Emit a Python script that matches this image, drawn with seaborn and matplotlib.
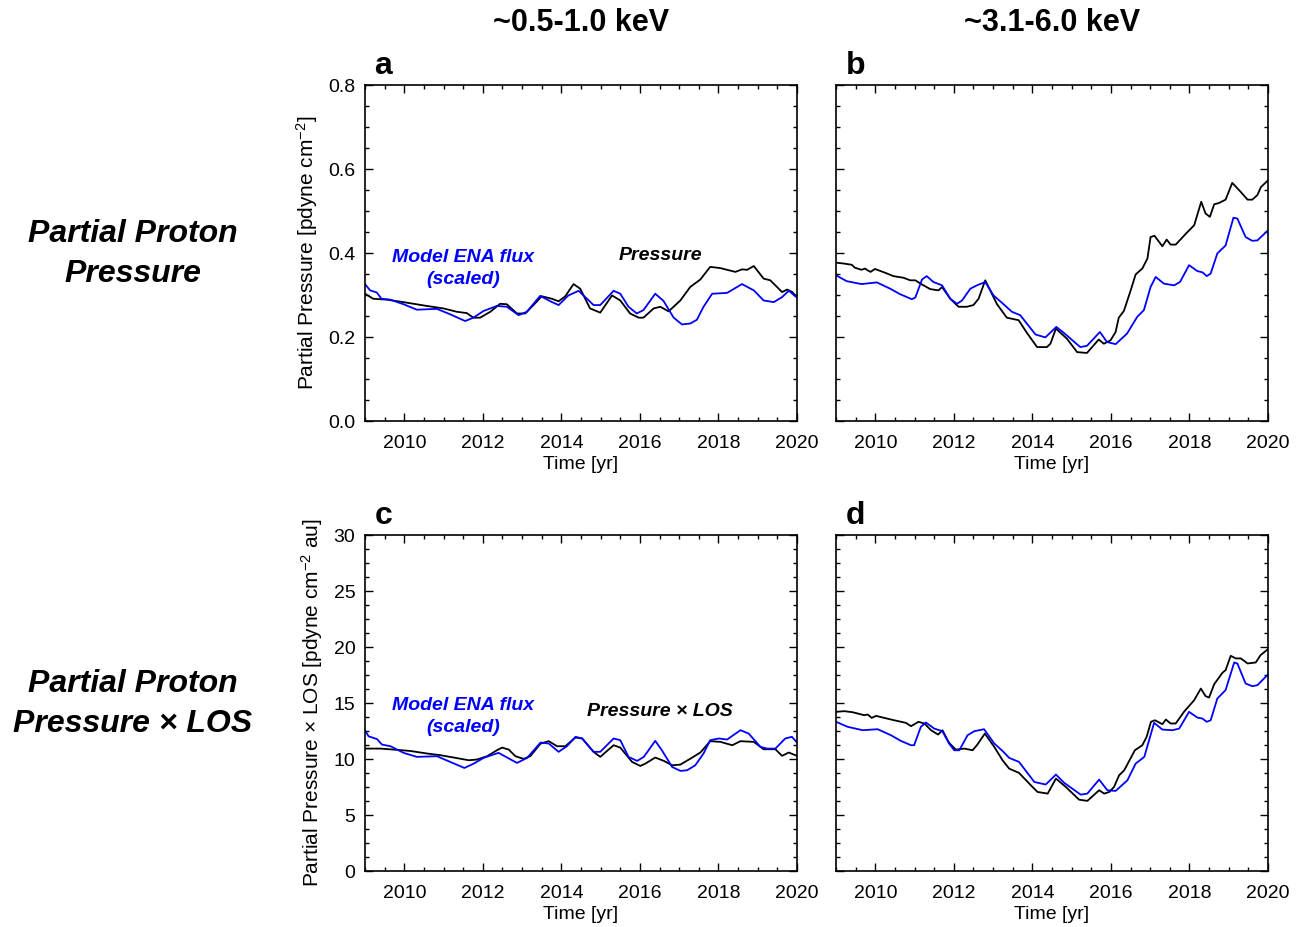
import matplotlib
matplotlib.use("Agg")
import matplotlib.pyplot as plt
from matplotlib.ticker import MultipleLocator, FormatStrFormatter
import seaborn as sns

# ---- data ----
# panel a: ~0.5-1.0 keV, partial pressure
a_press_yr = [2009.00, 2009.21, 2009.55, 2009.98, 2010.57, 2011.00, 2011.34, 2011.59, 2011.76, 2011.93,
              2012.19, 2012.44, 2012.61, 2012.87, 2013.08, 2013.29, 2013.50, 2013.76, 2013.93, 2014.10,
              2014.31, 2014.48, 2014.73, 2014.99, 2015.29, 2015.50, 2015.75, 2015.97, 2016.09, 2016.35,
              2016.52, 2016.73, 2017.03, 2017.28, 2017.54, 2017.79, 2018.05, 2018.43, 2018.60, 2018.73,
              2018.90, 2019.15, 2019.32, 2019.62, 2019.75, 2019.88, 2020.00]
a_press = [0.303, 0.291, 0.289, 0.283, 0.274, 0.268, 0.260, 0.257, 0.246, 0.246,
           0.260, 0.279, 0.278, 0.256, 0.256, 0.276, 0.297, 0.291, 0.285, 0.297,
           0.326, 0.315, 0.268, 0.258, 0.299, 0.287, 0.256, 0.246, 0.246, 0.268,
           0.272, 0.261, 0.287, 0.319, 0.337, 0.367, 0.364, 0.355, 0.361, 0.360,
           0.369, 0.339, 0.335, 0.307, 0.313, 0.307, 0.295]
a_ena_yr = [2009.00, 2009.13, 2009.30, 2009.42, 2009.64, 2009.98, 2010.32, 2010.83, 2011.17, 2011.55,
            2011.76, 2012.02, 2012.36, 2012.61, 2012.91, 2013.12, 2013.46, 2013.72, 2013.93, 2014.18,
            2014.44, 2014.82, 2014.99, 2015.33, 2015.50, 2015.71, 2015.92, 2016.09, 2016.39, 2016.60,
            2016.86, 2017.07, 2017.28, 2017.45, 2017.62, 2017.84, 2018.22, 2018.60, 2018.90, 2019.15,
            2019.41, 2019.62, 2019.79, 2020.00]
a_ena = [0.326, 0.311, 0.306, 0.291, 0.289, 0.278, 0.265, 0.267, 0.254, 0.238,
         0.246, 0.262, 0.274, 0.272, 0.252, 0.260, 0.298, 0.285, 0.276, 0.299,
         0.310, 0.276, 0.276, 0.310, 0.303, 0.272, 0.256, 0.264, 0.303, 0.286,
         0.246, 0.230, 0.232, 0.241, 0.272, 0.303, 0.305, 0.326, 0.311, 0.287,
         0.283, 0.295, 0.310, 0.294]

# panel b: ~3.1-6.0 keV, partial pressure
b_press_yr = [2009.00, 2009.19, 2009.40, 2009.48, 2009.65, 2009.74, 2009.80, 2009.88, 2009.99, 2010.25,
              2010.46, 2010.72, 2010.89, 2011.02, 2011.19, 2011.40, 2011.61, 2011.70, 2011.91, 2012.12,
              2012.33, 2012.50, 2012.63, 2012.80, 2013.10, 2013.35, 2013.65, 2013.86, 2014.12, 2014.37,
              2014.46, 2014.60, 2014.88, 2015.14, 2015.39, 2015.69, 2015.82, 2015.99, 2016.12, 2016.20,
              2016.33, 2016.50, 2016.63, 2016.80, 2016.93, 2017.01, 2017.11, 2017.31, 2017.42, 2017.52,
              2017.65, 2017.95, 2018.12, 2018.30, 2018.41, 2018.52, 2018.63, 2018.75, 2018.92, 2019.09,
              2019.31, 2019.48, 2019.60, 2019.73, 2019.82, 2020.00]
b_press = [0.377, 0.375, 0.372, 0.365, 0.360, 0.363, 0.359, 0.355, 0.362, 0.353,
           0.345, 0.341, 0.335, 0.335, 0.325, 0.314, 0.311, 0.319, 0.291, 0.272,
           0.272, 0.276, 0.291, 0.335, 0.278, 0.246, 0.240, 0.210, 0.176, 0.176,
           0.184, 0.220, 0.196, 0.164, 0.162, 0.194, 0.184, 0.192, 0.212, 0.246,
           0.262, 0.310, 0.349, 0.363, 0.387, 0.438, 0.441, 0.416, 0.432, 0.420,
           0.420, 0.450, 0.466, 0.522, 0.494, 0.486, 0.516, 0.519, 0.527, 0.567,
           0.545, 0.527, 0.527, 0.538, 0.557, 0.573]
b_ena_yr = [2009.00, 2009.27, 2009.65, 2010.04, 2010.38, 2010.63, 2010.93, 2011.02, 2011.19, 2011.31,
            2011.48, 2011.70, 2011.91, 2012.08, 2012.21, 2012.42, 2012.59, 2012.80, 2013.01, 2013.23,
            2013.48, 2013.69, 2014.08, 2014.33, 2014.61, 2014.80, 2015.22, 2015.39, 2015.72, 2015.90,
            2016.12, 2016.41, 2016.67, 2016.84, 2017.01, 2017.14, 2017.35, 2017.61, 2017.76, 2017.99,
            2018.20, 2018.33, 2018.44, 2018.54, 2018.71, 2018.92, 2019.12, 2019.22, 2019.43, 2019.60,
            2019.73, 2020.00]
b_ena = [0.347, 0.333, 0.326, 0.330, 0.315, 0.302, 0.290, 0.294, 0.337, 0.345,
         0.331, 0.323, 0.291, 0.279, 0.287, 0.315, 0.323, 0.331, 0.299, 0.281,
         0.260, 0.252, 0.206, 0.199, 0.224, 0.210, 0.176, 0.179, 0.212, 0.188,
         0.183, 0.208, 0.248, 0.264, 0.319, 0.343, 0.327, 0.323, 0.331, 0.371,
         0.357, 0.354, 0.345, 0.351, 0.399, 0.418, 0.484, 0.482, 0.438, 0.429,
         0.430, 0.454]

# panel c: ~0.5-1.0 keV, pressure x LOS
c_plos_yr = [2009.00, 2009.39, 2009.73, 2010.15, 2010.58, 2010.92, 2011.26, 2011.64, 2011.85, 2012.11,
             2012.36, 2012.49, 2012.66, 2012.83, 2013.04, 2013.21, 2013.47, 2013.68, 2013.89, 2014.10,
             2014.36, 2014.53, 2014.82, 2014.99, 2015.33, 2015.50, 2015.80, 2016.01, 2016.14, 2016.39,
             2016.61, 2016.82, 2017.03, 2017.29, 2017.54, 2017.79, 2018.05, 2018.35, 2018.56, 2018.90,
             2019.15, 2019.45, 2019.62, 2019.79, 2020.00]
c_plos = [10.93, 10.93, 10.84, 10.72, 10.49, 10.34, 10.13, 9.89, 9.95, 10.25,
          10.78, 11.02, 10.84, 10.25, 10.01, 10.25, 11.38, 11.59, 11.14, 11.14,
          11.92, 11.83, 10.64, 10.19, 11.23, 11.02, 9.74, 9.38, 9.59, 10.13,
          9.83, 9.44, 9.50, 10.04, 10.58, 11.59, 11.53, 11.23, 11.59, 11.53,
          10.87, 10.87, 10.28, 10.58, 10.28]
c_ena_yr = [2009.00, 2009.09, 2009.31, 2009.43, 2009.65, 2009.98, 2010.32, 2010.83, 2011.17, 2011.53,
            2011.77, 2012.02, 2012.40, 2012.62, 2012.87, 2013.13, 2013.47, 2013.68, 2013.93, 2014.14,
            2014.36, 2014.53, 2014.82, 2014.99, 2015.33, 2015.50, 2015.71, 2015.93, 2016.10, 2016.39,
            2016.56, 2016.82, 2017.03, 2017.20, 2017.41, 2017.62, 2017.79, 2018.01, 2018.22, 2018.56,
            2018.77, 2019.07, 2019.24, 2019.45, 2019.70, 2019.87, 2020.00]
c_ena = [12.57, 12.03, 11.77, 11.29, 11.14, 10.55, 10.19, 10.25, 9.74, 9.20,
         9.59, 10.10, 10.55, 10.13, 9.65, 10.10, 11.47, 11.38, 10.64, 11.14,
         11.98, 11.83, 10.64, 10.64, 11.83, 11.68, 10.19, 9.83, 10.19, 11.62,
         10.78, 9.29, 8.94, 8.99, 9.44, 10.49, 11.68, 11.83, 11.74, 12.57,
         12.27, 11.08, 10.93, 10.93, 11.83, 11.98, 11.47]

# panel d: ~3.1-6.0 keV, pressure x LOS
d_plos_yr = [2009.00, 2009.21, 2009.42, 2009.72, 2009.81, 2009.91, 2010.02, 2010.23, 2010.48, 2010.78,
             2010.91, 2011.10, 2011.25, 2011.42, 2011.60, 2011.71, 2011.88, 2012.05, 2012.27, 2012.48,
             2012.60, 2012.79, 2013.03, 2013.24, 2013.41, 2013.66, 2013.96, 2014.13, 2014.39, 2014.60,
             2014.85, 2015.19, 2015.40, 2015.70, 2015.83, 2015.96, 2016.08, 2016.21, 2016.34, 2016.61,
             2016.80, 2016.91, 2017.02, 2017.12, 2017.31, 2017.40, 2017.52, 2017.65, 2017.86, 2018.12,
             2018.29, 2018.41, 2018.50, 2018.63, 2018.84, 2018.92, 2019.05, 2019.18, 2019.31, 2019.48,
             2019.69, 2019.81, 2020.00]
d_plos = [14.21, 14.27, 14.18, 13.91, 13.97, 13.67, 13.85, 13.67, 13.46, 13.23,
          12.93, 13.32, 13.17, 12.57, 12.18, 12.57, 11.44, 10.84, 10.93, 10.78,
          11.29, 12.27, 11.08, 9.89, 9.14, 8.76, 7.66, 7.06, 6.91, 8.25,
          7.51, 6.37, 6.26, 7.21, 6.91, 7.06, 7.51, 8.55, 9.00, 10.78,
          11.23, 11.98, 13.32, 13.46, 13.11, 13.52, 13.17, 13.17, 14.21, 15.25,
          16.29, 15.61, 15.49, 16.68, 17.70, 17.93, 19.21, 18.98, 18.98, 18.53,
          18.62, 19.27, 19.81]
d_ena_yr = [2009.00, 2009.30, 2009.68, 2010.06, 2010.40, 2010.65, 2010.91, 2010.99, 2011.16, 2011.29,
            2011.50, 2011.71, 2011.88, 2012.01, 2012.14, 2012.35, 2012.52, 2012.77, 2013.03, 2013.24,
            2013.41, 2013.66, 2014.05, 2014.34, 2014.60, 2014.81, 2015.23, 2015.40, 2015.70, 2015.91,
            2016.12, 2016.42, 2016.63, 2016.85, 2017.10, 2017.31, 2017.57, 2017.74, 2017.99, 2018.20,
            2018.33, 2018.44, 2018.54, 2018.71, 2018.92, 2019.14, 2019.22, 2019.43, 2019.60, 2019.73,
            2020.00]
d_ena = [13.32, 12.87, 12.57, 12.66, 12.12, 11.62, 11.23, 11.23, 12.87, 13.26,
         12.72, 12.48, 11.38, 10.78, 10.78, 12.12, 12.48, 12.66, 11.38, 10.72,
         10.10, 9.74, 7.95, 7.72, 8.61, 7.87, 6.82, 6.91, 8.16, 7.21,
         7.15, 8.10, 9.59, 10.19, 13.23, 12.63, 12.57, 12.72, 14.21, 13.70,
         13.61, 13.32, 13.46, 15.40, 16.15, 18.62, 18.53, 16.74, 16.50, 16.59,
         17.55]

energy_titles = ["~0.5-1.0 keV", "~3.1-6.0 keV"]
row_titles = ["Partial Proton\nPressure", "Partial Proton\nPressure \u00d7 LOS"]
panel_letters = ["a", "b", "c", "d"]

sns.set_theme(style="white")
plt.rcParams['font.family'] = ['Liberation Sans', 'DejaVu Sans']
plt.rcParams['mathtext.fontset'] = 'custom'
plt.rcParams['mathtext.rm'] = 'Liberation Sans'
plt.rcParams['mathtext.it'] = 'Liberation Sans:italic'
plt.rcParams['mathtext.bf'] = 'Liberation Sans:bold'
for key in ['text.color', 'axes.labelcolor', 'xtick.color', 'ytick.color', 'axes.edgecolor']:
    plt.rcParams[key] = 'black'

fig = plt.figure(figsize=(13.02, 9.27), dpi=100)
W, H = 1302, 927
lefts = [365, 836]
tops = [85, 535]
aw, ah = 432, 336

axes = []
for r in range(2):
    for c in range(2):
        ax = fig.add_axes([lefts[c] / W, 1 - (tops[r] + ah) / H, aw / W, ah / H])
        axes.append(ax)

series = [
    (a_press_yr, a_press, a_ena_yr, a_ena),
    (b_press_yr, b_press, b_ena_yr, b_ena),
    (c_plos_yr, c_plos, c_ena_yr, c_ena),
    (d_plos_yr, d_plos, d_ena_yr, d_ena),
]

for i, ax in enumerate(axes):
    px, py, ex, ey = series[i]
    sns.lineplot(x=px, y=py, ax=ax, color="black", linewidth=1.3, estimator=None, sort=False)
    sns.lineplot(x=ex, y=ey, ax=ax, color="#0000ff", linewidth=1.3, estimator=None, sort=False)
    ax.set_xlim(2009, 2020)
    ax.xaxis.set_major_locator(MultipleLocator(2))
    ax.xaxis.set_minor_locator(MultipleLocator(0.5))
    if i < 2:
        ax.set_ylim(0, 0.8)
        ax.yaxis.set_major_locator(MultipleLocator(0.2))
        ax.yaxis.set_minor_locator(MultipleLocator(0.05))
        ax.yaxis.set_major_formatter(FormatStrFormatter("%.1f"))
    else:
        ax.set_ylim(0, 30)
        ax.yaxis.set_major_locator(MultipleLocator(5))
        ax.yaxis.set_minor_locator(MultipleLocator(1.25))
    ax.tick_params(which="both", direction="in", top=True, right=True, bottom=True, left=True,
                   labelsize=14, width=1.0, color="black")
    ax.tick_params(which="major", length=6)
    ax.tick_params(which="minor", length=3)
    ax.tick_params(axis="x", which="major", pad=10)
    ax.tick_params(axis="y", which="major", pad=7)
    for s in ax.spines.values():
        s.set_linewidth(1.2)
        s.set_color("black")
    ax.set_xlabel("Time [yr]", fontsize=14, labelpad=3)
    if i % 2 == 1:
        ax.set_yticklabels([])
        ax.set_ylabel("")
    ax.text(0.022, 1.012, panel_letters[i], transform=ax.transAxes, fontsize=23,
            fontweight="bold", ha="left", va="bottom")
    ax.grid(False)

axes[0].set_ylabel("Partial Pressure [pdyne cm$^{-2}$]", fontsize=15, labelpad=6)
axes[2].set_ylabel("Partial Pressure \u00d7 LOS [pdyne cm$^{-2}$ au]", fontsize=15, labelpad=6)

# in-panel annotations
ann = dict(fontsize=14, fontweight="bold", fontstyle="italic", ha="center", va="center", linespacing=1.4)
axes[0].text(0.227, 0.455, "Model ENA flux\n(scaled)", transform=axes[0].transAxes, color="#0000ff", **ann)
axes[0].text(0.683, 0.494, "Pressure", transform=axes[0].transAxes, color="black", **ann)
axes[2].text(0.227, 0.46, "Model ENA flux\n(scaled)", transform=axes[2].transAxes, color="#0000ff", **ann)
axes[2].text(0.683, 0.476, "Pressure \u00d7 LOS", transform=axes[2].transAxes, color="black", **ann)

# column and row headers
for c in range(2):
    fig.text((lefts[c] + aw / 2) / W, 1 - 23 / H, energy_titles[c], fontsize=22,
             fontweight="bold", ha="center", va="center")
for r in range(2):
    fig.text(133 / W, 1 - (tops[r] + 169) / H, row_titles[r], fontsize=23, fontweight="bold",
             fontstyle="italic", ha="center", va="center", linespacing=1.45)

fig.savefig("out.png", dpi=100, facecolor="white")
